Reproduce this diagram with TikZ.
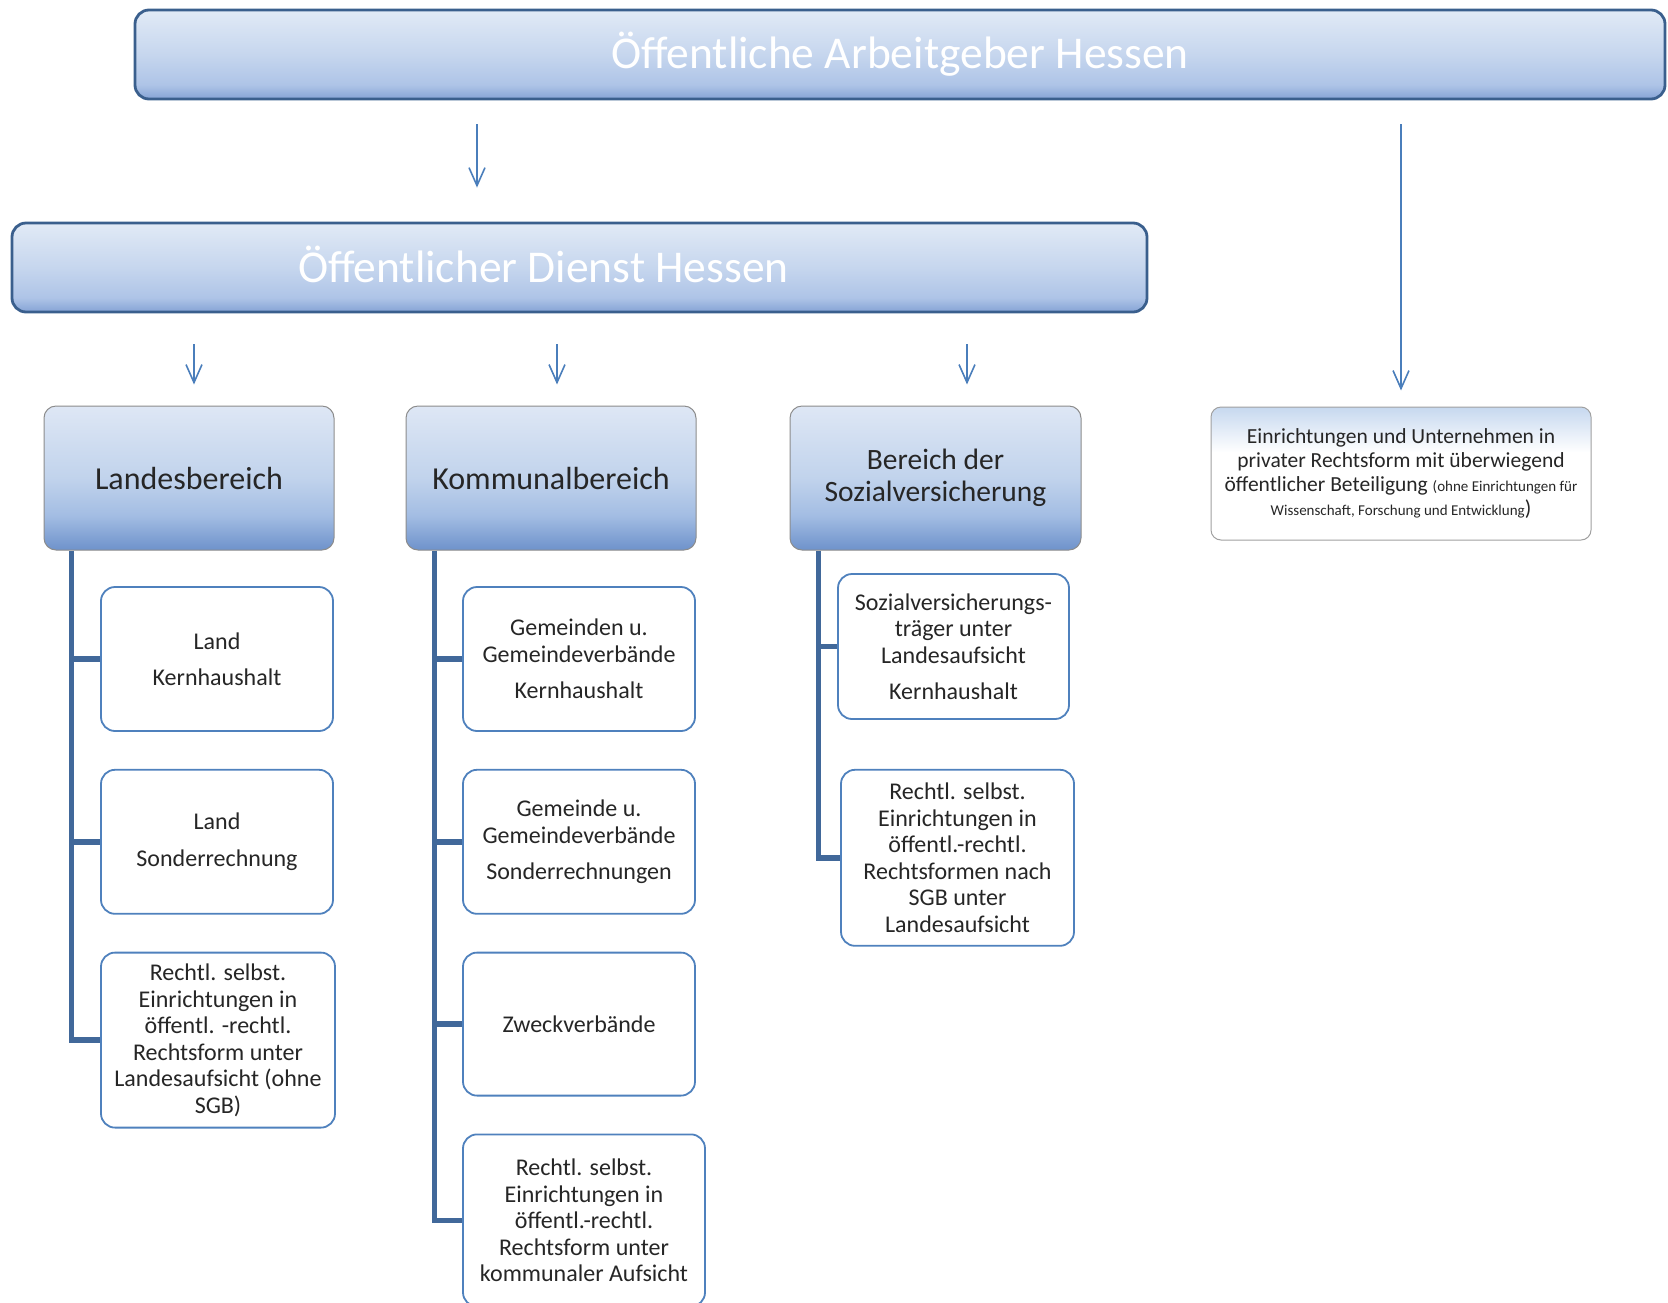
\documentclass[tikz,border=0pt]{standalone}
\usepackage{fontspec}
\setmainfont{Carlito}
\usepackage{xcolor}
\usetikzlibrary{positioning,calc,arrows.meta}
\definecolor{HdrTop}{HTML}{E1EAF6}
\definecolor{HdrMid}{HTML}{C6D6EE}
\definecolor{HdrLow}{HTML}{AEC4E7}
\definecolor{HdrBottom}{HTML}{85A3D5}
\definecolor{HdrBorder}{HTML}{3A5F8D}
\definecolor{AreaTop}{HTML}{DEE7F5}
\definecolor{AreaMid}{HTML}{C1D3EC}
\definecolor{AreaLow}{HTML}{A3BDE3}
\definecolor{AreaBottom}{HTML}{6E92CB}
\definecolor{AreaBorder}{HTML}{8C8C8C}
\definecolor{PrivTop}{HTML}{C6D8EF}
\definecolor{PrivBorder}{HTML}{A0A0A0}
\definecolor{ItemBorder}{HTML}{4F81BD}
\definecolor{TrunkBlue}{HTML}{41689A}
\definecolor{ArrowBlue}{HTML}{4A7EBB}
\definecolor{TextGray}{HTML}{262626}

\pgfdeclareverticalshading{hdrshade}{100bp}{color(0bp)=(HdrBottom); color(25bp)=(HdrBottom); color(33bp)=(HdrLow); color(50bp)=(HdrMid); color(75bp)=(HdrTop); color(100bp)=(HdrTop)}
\pgfdeclareverticalshading{areashade}{100bp}{color(0bp)=(AreaBottom); color(25bp)=(AreaBottom); color(37bp)=(AreaLow); color(50bp)=(AreaMid); color(75bp)=(AreaTop); color(100bp)=(AreaTop)}
\pgfdeclareverticalshading{privshade}{100bp}{color(0bp)=(white); color(25bp)=(white); color(58bp)=(white); color(75bp)=(PrivTop); color(100bp)=(PrivTop)}

\begin{document}
\begin{tikzpicture}[x=1pt, y=-1pt,
    every node/.style={font=\fontsize{24}{26.5}\selectfont, text=TextGray, align=center},
    hdrtext/.style={text=white, font=\fontsize{45.5}{50}\selectfont},
    hdrbox/.style={draw=HdrBorder, line width=2.8pt, rounded corners=14pt, shade, shading=hdrshade, hdrtext, minimum height=89pt},
    areabox/.style={draw=AreaBorder, line width=1pt, rounded corners=12pt, shade, shading=areashade, font=\fontsize{32}{32}\selectfont, minimum width=290pt, minimum height=144pt},
    privbox/.style={draw=PrivBorder, line width=1pt, rounded corners=10pt, shade, shading=privshade, font=\fontsize{21.5}{24}\selectfont, minimum width=380pt, minimum height=133pt},
    itembox/.style={draw=ItemBorder, line width=1.8pt, rounded corners=14pt, fill=white, minimum width=232pt, minimum height=144pt},
    trunk/.style={draw=TrunkBlue, line width=5.5pt},
    arr/.style={draw=ArrowBlue, line width=1.6pt, -{Straight Barb[length=18pt, width=16pt]}}]
    \useasboundingbox (0,0) rectangle (1668,1302);

    % headers
    \node[hdrbox, minimum width=1530pt] (arbeitgeber) at (900,54.5) {Öffentliche Arbeitgeber Hessen};
    \node[hdrbox, minimum width=1135pt, label={[hdrtext, xshift=-36pt, yshift=3pt]center:Öffentlicher Dienst Hessen}] (dienst) at (579.5,267.5) {};

    % areas
    \node[areabox] (landes) at (189,478) {Landesbereich};
    \node[areabox, right=71pt of landes] (kommunal) {Kommunalbereich};
    \node[areabox, right=93pt of kommunal, minimum width=291pt, font=\fontsize{29.5}{32}\selectfont] (sozial) {Bereich der\\Sozialversicherung};
    \node[privbox] (privat) at (1401,473.5) {Einrichtungen und Unternehmen in\\privater Rechtsform mit überwiegend\\öffentlicher Beteiligung {\fontsize{15}{17}\selectfont(ohne Einrichtungen für}\\{\fontsize{15}{17}\selectfont Wissenschaft, Forschung und Entwicklung})};

    % Landesbereich
    \node[itembox] (land1) at (217,659) {Land\\[10pt]Kernhaushalt};
    \node[itembox, below=37pt of land1] (land2) {Land\\[10pt]Sonderrechnung};
    \node[itembox, below=37pt of land2, minimum width=234pt, minimum height=175pt, xshift=1pt] (land3) {Rechtl. selbst.\\Einrichtungen in\\öffentl. -rechtl.\\Rechtsform unter\\Landesaufsicht (ohne\\SGB)};

    % Kommunalbereich
    \node[itembox] (komm1) at (579,659) {Gemeinden u.\\Gemeindeverbände\\[10pt]Kernhaushalt};
    \node[itembox, below=37pt of komm1] (komm2) {Gemeinde u.\\Gemeindeverbände\\[10pt]Sonderrechnungen};
    \node[itembox, below=37pt of komm2, minimum height=143pt] (komm3) {Zweckverbände};
    \node[itembox, below=37pt of komm3, minimum width=242pt, minimum height=172pt, xshift=5pt] (komm4) {Rechtl. selbst.\\Einrichtungen in\\öffentl.-rechtl.\\Rechtsform unter\\kommunaler Aufsicht};

    % Sozialversicherung
    \node[itembox, minimum width=231pt, minimum height=145pt] (sozi1) at (953.5,646.5) {Sozialversicherungs-\\träger unter\\Landesaufsicht\\[10pt]Kernhaushalt};
    \node[itembox, below=49pt of sozi1, minimum width=233pt, minimum height=176pt, xshift=4pt] (sozi2) {Rechtl. selbst.\\Einrichtungen in\\öffentl.-rechtl.\\Rechtsformen nach\\SGB unter\\Landesaufsicht};

    % trunks
    \coordinate (landtrunk) at ([xshift=28pt]landes.south west);
    \coordinate (kommtrunk) at ([xshift=29pt]kommunal.south west);
    \coordinate (sozitrunk) at ([xshift=29pt]sozial.south west);
    \draw[trunk] (landtrunk) |- (land3.west);
    \draw[trunk] (land1.west) -- (land1.west -| landtrunk);
    \draw[trunk] (land2.west) -- (land2.west -| landtrunk);
    \draw[trunk] (kommtrunk) |- (komm4.west);
    \draw[trunk] (komm1.west) -- (komm1.west -| kommtrunk);
    \draw[trunk] (komm2.west) -- (komm2.west -| kommtrunk);
    \draw[trunk] (komm3.west) -- (komm3.west -| kommtrunk);
    \draw[trunk] (sozitrunk) |- (sozi2.west);
    \draw[trunk] (sozi1.west) -- (sozi1.west -| sozitrunk);

    % arrows
    \draw[arr] ($(arbeitgeber.south)+(-423,24)$) -- ($(dienst.north)+(-102.5,-34)$);
    \draw[arr] ($(arbeitgeber.south)+(501,24)$) -- ($(privat.north)+(0,-16)$);
    \draw[arr] ($(landes.north |- dienst.south)+(5,31)$) -- ($(landes.north)+(5,-21)$);
    \draw[arr] ($(kommunal.north |- dienst.south)+(6,31)$) -- ($(kommunal.north)+(6,-21)$);
    \draw[arr] ($(sozial.north |- dienst.south)+(31.5,31)$) -- ($(sozial.north)+(31.5,-21)$);
\end{tikzpicture}
\end{document}
